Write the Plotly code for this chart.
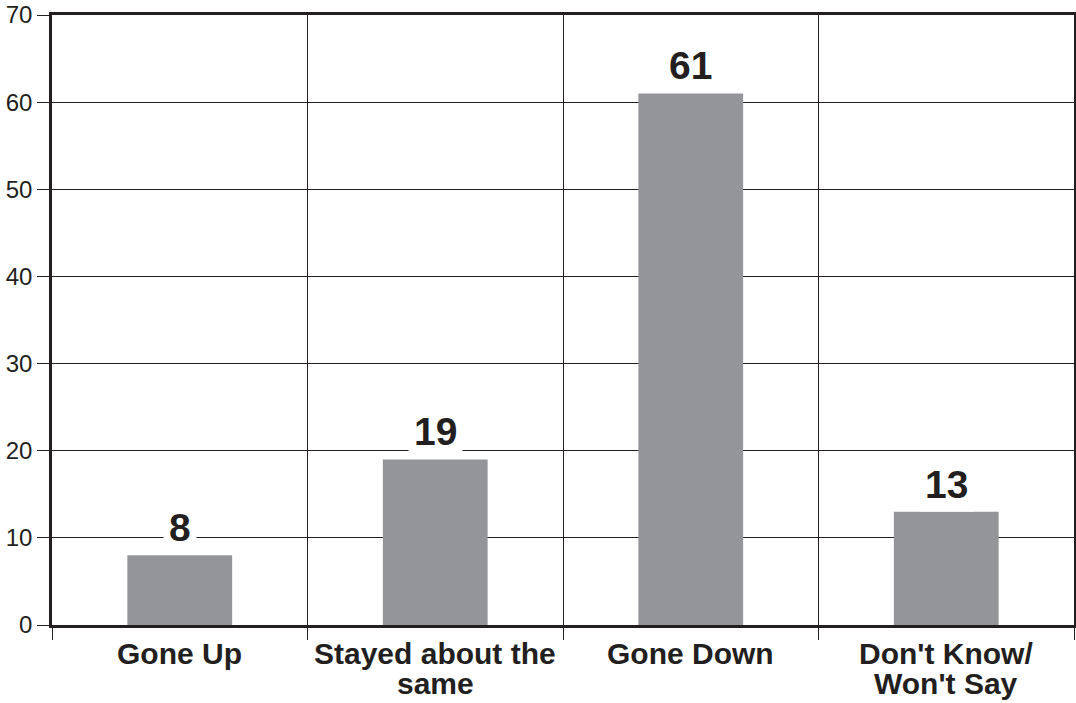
import plotly.graph_objects as go

# --- dados do gráfico ---
categorias = ["Gone Up", "Stayed about the\nsame", "Gone Down", "Don't Know/\nWon't Say"]
valores = [8, 19, 61, 13]
rotulos = ["8", "19", "61", "13"]

COR_BARRA = "#939598"
COR_TEXTO = "#231f20"
FONTE = "Liberation Sans, Arial, sans-serif"

fig = go.Figure(go.Bar(
    x=categorias,
    y=valores,
    width=0.41,
    marker=dict(color=COR_BARRA, line=dict(width=0)),
    hoverinfo="skip",
))

# rótulos de valor com fundo branco (escondem a linha de grade atrás)
for cat, val, txt in zip(categorias, valores, rotulos):
    fig.add_annotation(
        x=cat, y=val, text=f"<b>{txt}</b>", showarrow=False,
        yanchor="bottom", yshift=0,
        font=dict(family=FONTE, size=39, color=COR_TEXTO),
        bgcolor="white", borderpad=5,
    )

# nomes das categorias (uma anotação por linha para controlar o espaçamento)
for cat in categorias:
    for i, linha in enumerate(cat.split("\n")):
        fig.add_annotation(
            x=cat, y=0, xref="x", yref="paper", text=f"<b>{linha}</b>",
            showarrow=False, yanchor="middle", yshift=-28 - 30 * i,
            font=dict(family=FONTE, size=30, color=COR_TEXTO),
        )

fig.update_layout(
    width=1076, height=703,
    margin=dict(l=52, r=2, t=15, b=78),
    paper_bgcolor="white",
    plot_bgcolor="white",
    showlegend=False,
    font=dict(family=FONTE, color=COR_TEXTO),
)

fig.update_xaxes(
    type="category",
    tickson="boundaries",
    ticks="outside", ticklen=12, tickwidth=1, tickcolor=COR_TEXTO,
    showticklabels=False,
    showgrid=True, gridcolor=COR_TEXTO, gridwidth=1,
    showline=True, linecolor=COR_TEXTO, linewidth=2.5, mirror=True,
    range=[-0.5, 3.5],
    automargin=False,
)
fig.update_yaxes(
    range=[0, 70], dtick=10,
    ticks="outside", ticklen=12, tickwidth=1, tickcolor=COR_TEXTO,
    showgrid=True, gridcolor=COR_TEXTO, gridwidth=1,
    showline=True, linecolor=COR_TEXTO, linewidth=2.5, mirror=True,
    zeroline=False,
    tickfont=dict(family=FONTE, size=24, color=COR_TEXTO),
    automargin=False,
)

# tira a margem padrão do <body> para o gráfico ocupar a janela inteira
fig.write_html(
    "out.html",
    config={"displayModeBar": False},
    post_script="document.body.style.margin='0';",
)
